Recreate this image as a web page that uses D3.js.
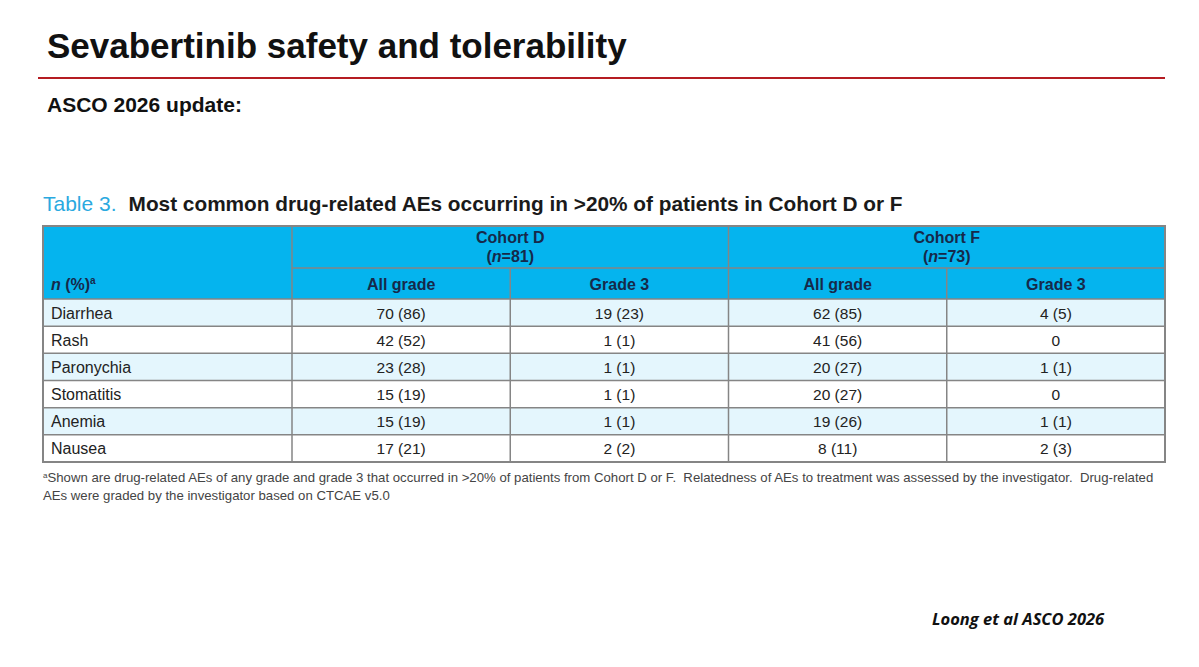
<!DOCTYPE html>
<html>
<head>
<meta charset="utf-8">
<script src="https://cdn.jsdelivr.net/npm/d3@7.9.0/dist/d3.min.js"></script>
<style>
  body { margin: 0; background: #fff; }
  svg { display: block; font-family: "Liberation Sans", Arial, sans-serif; }
</style>
</head>
<body>
<svg id="chart"></svg>
<script>
// table content
const events = ['Diarrhea', 'Rash', 'Paronychia', 'Stomatitis', 'Anemia', 'Nausea'];
const cohorts = ['Cohort D', 'Cohort F'];
const cohortN = ['81', '73'];
const grades = ['All grade', 'Grade 3'];
const cohortDAll = ['70 (86)', '42 (52)', '23 (28)', '15 (19)', '15 (19)', '17 (21)'];
const cohortDG3 = ['19 (23)', '1 (1)', '1 (1)', '1 (1)', '1 (1)', '2 (2)'];
const cohortFAll = ['62 (85)', '41 (56)', '20 (27)', '20 (27)', '19 (26)', '8 (11)'];
const cohortFG3 = ['4 (5)', '0', '1 (1)', '0', '1 (1)', '2 (3)'];

const valueCols = [cohortDAll, cohortDG3, cohortFAll, cohortFG3];

const width = 1199, height = 667;
const svg = d3.select('#chart').attr('width', width).attr('height', height);

// slide header
svg.append('text')
  .attr('x', 47).attr('y', 58)
  .attr('font-size', 35).attr('font-weight', 'bold').attr('fill', '#111')
  .text('Sevabertinib safety and tolerability');

svg.append('line')
  .attr('x1', 38).attr('x2', 1165).attr('y1', 78).attr('y2', 78)
  .attr('stroke', '#b51c22').attr('stroke-width', 2);

svg.append('text')
  .attr('x', 47).attr('y', 112)
  .attr('font-size', 21).attr('font-weight', 'bold').attr('fill', '#111')
  .text('ASCO 2026 update:');

// table title
const tt = svg.append('text')
  .attr('x', 43).attr('y', 211)
  .attr('font-size', 21).attr('fill', '#1a1a1a');
tt.append('tspan').attr('fill', '#2aa9df').text('Table 3.');
tt.append('tspan').attr('dx', 12).attr('font-weight', 'bold').attr('font-size', 20.8)
  .text('Most common drug-related AEs occurring in >20% of patients in Cohort D or F');

// table geometry
const tLeft = 43, tRight = 1165, labelRight = 292;
const tTop = 226, h1 = 268, h2 = 299, tBottom = 462;

const x = d3.scaleBand()
  .domain(d3.range(valueCols.length))
  .range([labelRight, tRight]);

const xc = d3.scaleBand()
  .domain(cohorts)
  .range([labelRight, tRight]);

const y = d3.scaleBand()
  .domain(events)
  .range([h2, tBottom]);

const grid = '#858585';
const headBg = '#05b4ee';
const headText = '#16294a';

// header background
svg.append('rect')
  .attr('x', tLeft).attr('y', tTop)
  .attr('width', tRight - tLeft).attr('height', h2 - tTop)
  .attr('fill', headBg);

// row backgrounds
svg.append('g').selectAll('rect')
  .data(events)
  .join('rect')
  .attr('x', tLeft)
  .attr('y', d => y(d))
  .attr('width', tRight - tLeft)
  .attr('height', y.bandwidth())
  .attr('fill', (d, i) => i % 2 === 0 ? '#e4f6fd' : '#ffffff');

// cohort header text
const ch = svg.append('g').selectAll('g')
  .data(cohorts)
  .join('g')
  .attr('transform', d => `translate(${xc(d) + xc.bandwidth() / 2},0)`)
  .attr('text-anchor', 'middle')
  .attr('fill', headText)
  .attr('font-size', 16)
  .attr('font-weight', 'bold');
ch.append('text').attr('y', 243).text(d => d);
const nt = ch.append('text').attr('y', 262);
nt.append('tspan').text('(');
nt.append('tspan').attr('font-style', 'italic').text('n');
nt.append('tspan').text((d, i) => '=' + cohortN[i] + ')');

// grade header text
svg.append('g').selectAll('text')
  .data(d3.range(valueCols.length))
  .join('text')
  .attr('x', d => x(d) + x.bandwidth() / 2)
  .attr('y', 289.5)
  .attr('text-anchor', 'middle')
  .attr('fill', headText)
  .attr('font-size', 16)
  .attr('font-weight', 'bold')
  .text(d => grades[d % 2]);

// n (%) label
const nl = svg.append('text')
  .attr('x', 51).attr('y', 289.5)
  .attr('fill', headText).attr('font-size', 16).attr('font-weight', 'bold');
nl.append('tspan').attr('font-style', 'italic').text('n');
nl.append('tspan').text(' (%)');
nl.append('tspan').attr('font-size', 10).attr('dy', -6).text('a');

// event labels
svg.append('g').selectAll('text')
  .data(events)
  .join('text')
  .attr('x', 51)
  .attr('y', d => y(d) + y.bandwidth() / 2 + 6)
  .attr('font-size', 16)
  .attr('fill', '#222')
  .text(d => d);

// values
const cells = svg.append('g');
valueCols.forEach((col, ci) => {
  cells.append('g').selectAll('text')
    .data(col)
    .join('text')
    .attr('x', x(ci) + x.bandwidth() / 2)
    .attr('y', (d, i) => y(events[i]) + y.bandwidth() / 2 + 6)
    .attr('text-anchor', 'middle')
    .attr('font-size', 15.5)
    .attr('fill', '#222')
    .text(d => d);
});

// grid lines
const g = svg.append('g').attr('stroke', grid).attr('stroke-width', 1.5);
g.append('line').attr('x1', labelRight).attr('x2', tRight).attr('y1', h1).attr('y2', h1);
g.selectAll('.rowline')
  .data(events.slice(1))
  .join('line')
  .attr('x1', tLeft).attr('x2', tRight)
  .attr('y1', d => y(d)).attr('y2', d => y(d));
g.append('line').attr('x1', tLeft).attr('x2', tRight).attr('y1', h2).attr('y2', h2);
g.append('line').attr('x1', labelRight).attr('x2', labelRight).attr('y1', tTop).attr('y2', tBottom);
g.append('line').attr('x1', xc(cohorts[1])).attr('x2', xc(cohorts[1])).attr('y1', tTop).attr('y2', tBottom);
g.selectAll('.gradeline')
  .data([1, 3])
  .join('line')
  .attr('x1', d => x(d)).attr('x2', d => x(d))
  .attr('y1', h1).attr('y2', tBottom);
g.append('rect')
  .attr('x', tLeft).attr('y', tTop)
  .attr('width', tRight - tLeft).attr('height', tBottom - tTop)
  .attr('fill', 'none').attr('stroke-width', 2);

// footnote
const fn = svg.append('g').attr('font-size', 13.2).attr('fill', '#444');
const f1 = fn.append('text').attr('x', 43).attr('y', 482).attr('xml:space', 'preserve');
f1.append('tspan').attr('font-size', 8).attr('dy', -4).text('a');
f1.append('tspan').attr('dy', 4)
  .text('Shown are drug-related AEs of any grade and grade 3 that occurred in >20% of patients from Cohort D or F.  Relatedness of AEs to treatment was assessed by the investigator.  Drug-related');
fn.append('text').attr('x', 43).attr('y', 500)
  .text('AEs were graded by the investigator based on CTCAE v5.0');

// citation
svg.append('text')
  .attr('x', 932).attr('y', 625)
  .attr('font-family', '"Open Sans", Lato, sans-serif')
  .attr('font-size', 16.5).attr('font-weight', 'bold').attr('font-style', 'italic')
  .attr('fill', '#111')
  .text('Loong et al ASCO 2026');
</script>
</body>
</html>
